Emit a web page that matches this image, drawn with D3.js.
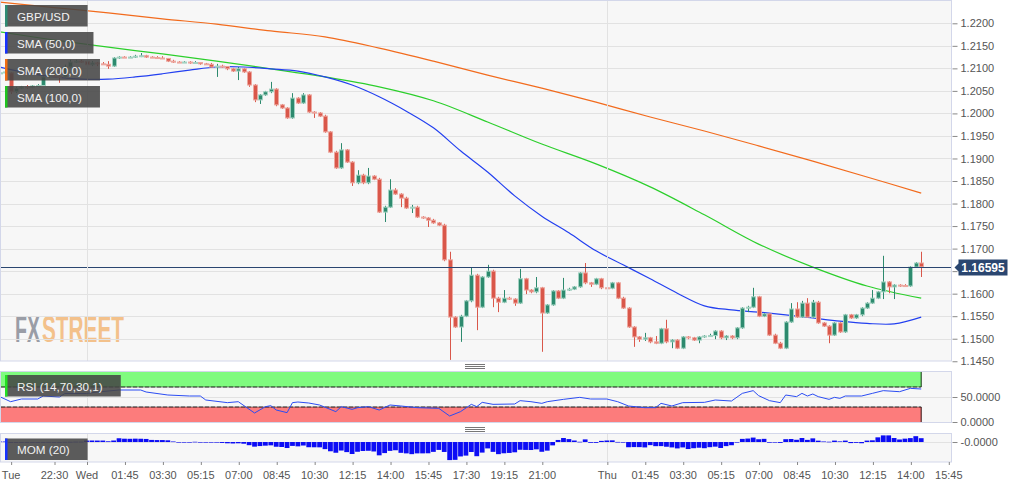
<!DOCTYPE html>
<html><head><meta charset="utf-8">
<script src="https://cdn.jsdelivr.net/npm/d3@7/dist/d3.min.js"></script>
<style>
html,body{margin:0;padding:0;background:#fff;}
svg{display:block;font-family:"Liberation Sans",Arial,sans-serif;}
</style></head>
<body><svg id="c" width="1022" height="488"></svg>
<script>
// ---------------- DATA ----------------
const firstBar = -16; // bar index of first candle (Wed 00:00 = 0, 15-minute bars)
const open = [
1.2088,1.2090,1.2090,1.2048,1.2056,1.2059,1.2058,1.2061,1.2062,1.2081,
1.2083,1.2082,1.2081,1.2103,1.2114,1.2116,1.2115,1.2108,1.2112,1.2110,
1.2109,1.2105,1.2123,1.2125,1.2124,1.2125,1.2127,1.2128,1.2125,1.2124,
1.2123,1.2122,1.2116,1.2114,1.2113,1.2114,1.2112,1.2113,1.2110,1.2109,
1.2103,1.2105,1.2104,1.2099,1.2094,1.2099,1.2092,1.2063,1.2030,1.2041,
1.2048,1.2054,1.2019,1.2012,1.1990,1.2034,1.2023,1.2041,1.2003,1.2001,
1.1994,1.1959,1.1914,1.1879,1.1919,1.1892,1.1846,1.1863,1.1846,1.1861,
1.1854,1.1781,1.1792,1.1830,1.1821,1.1812,1.1790,1.1792,1.1770,1.1768,
1.1763,1.1757,1.1752,1.1675,1.1548,1.1526,1.1550,1.1584,1.1641,1.1570,
1.1637,1.1650,1.1590,1.1581,1.1590,1.1588,1.1579,1.1633,1.1608,1.1604,
1.1613,1.1557,1.1575,1.1606,1.1590,1.1608,1.1610,1.1615,1.1646,1.1624,
1.1621,1.1633,1.1613,1.1612,1.1624,1.1590,1.1568,1.1526,1.1504,1.1499,
1.1502,1.1493,1.1490,1.1522,1.1493,1.1497,1.1479,1.1504,1.1502,1.1497,
1.1504,1.1506,1.1507,1.1517,1.1502,1.1506,1.1502,1.1524,1.1568,1.1570,
1.1593,1.1550,1.1555,1.1508,1.1490,1.1479,1.1537,1.1566,1.1548,1.1579,
1.1548,1.1581,1.1535,1.1528,1.1508,1.1535,1.1515,1.1553,1.1546,1.1553,
1.1568,1.1579,1.1590,1.1604,1.1626,1.1615,1.1619,1.1618,1.1617,1.1659,
1.1668];
const high = [
1.2094,1.2096,1.2092,1.2059,1.2061,1.2063,1.2063,1.2065,1.2083,1.2088,
1.2088,1.2090,1.2108,1.2119,1.2119,1.2119,1.2119,1.2116,1.2114,1.2114,
1.2116,1.2125,1.2127,1.2127,1.2127,1.2130,1.2134,1.2130,1.2127,1.2127,
1.2127,1.2123,1.2119,1.2116,1.2116,1.2116,1.2116,1.2114,1.2112,1.2112,
1.2110,1.2108,1.2105,1.2101,1.2103,1.2101,1.2094,1.2065,1.2043,1.2050,
1.2070,1.2056,1.2021,1.2014,1.2045,1.2036,1.2045,1.2043,1.2005,1.2003,
1.1997,1.1961,1.1917,1.1934,1.1921,1.1894,1.1874,1.1866,1.1879,1.1863,
1.1857,1.1795,1.1854,1.1834,1.1823,1.1815,1.1797,1.1795,1.1772,1.1770,
1.1766,1.1759,1.1755,1.1693,1.1550,1.1553,1.1586,1.1657,1.1644,1.1639,
1.1664,1.1653,1.1593,1.1608,1.1593,1.1590,1.1655,1.1635,1.1610,1.1637,
1.1615,1.1577,1.1608,1.1608,1.1635,1.1613,1.1617,1.1648,1.1668,1.1626,
1.1635,1.1635,1.1615,1.1626,1.1626,1.1593,1.1570,1.1528,1.1506,1.1513,
1.1504,1.1506,1.1524,1.1542,1.1499,1.1499,1.1506,1.1506,1.1504,1.1506,
1.1508,1.1511,1.1519,1.1519,1.1508,1.1508,1.1526,1.1570,1.1573,1.1613,
1.1595,1.1557,1.1557,1.1511,1.1493,1.1539,1.1579,1.1581,1.1584,1.1590,
1.1586,1.1584,1.1537,1.1530,1.1537,1.1537,1.1555,1.1555,1.1555,1.1570,
1.1581,1.1608,1.1606,1.1684,1.1628,1.1621,1.1621,1.1621,1.1661,1.1670,
1.1693];
const low = [
1.2085,1.2088,1.2043,1.2045,1.2054,1.2054,1.2056,1.2059,1.2061,1.2079,
1.2081,1.2068,1.2079,1.2101,1.2112,1.2112,1.2096,1.2105,1.2105,1.2108,
1.2099,1.2103,1.2121,1.2123,1.2123,1.2123,1.2125,1.2123,1.2123,1.2121,
1.2121,1.2114,1.2112,1.2112,1.2112,1.2110,1.2110,1.2108,1.2108,1.2101,
1.2081,1.2101,1.2096,1.2092,1.2074,1.2090,1.2059,1.2025,1.2021,1.2039,
1.2045,1.2016,1.2010,1.1988,1.1988,1.2021,1.2021,1.2001,1.1990,1.1992,
1.1957,1.1912,1.1877,1.1877,1.1890,1.1839,1.1843,1.1843,1.1843,1.1852,
1.1779,1.1759,1.1790,1.1819,1.1792,1.1788,1.1779,1.1768,1.1766,1.1748,
1.1755,1.1750,1.1672,1.1453,1.1524,1.1493,1.1548,1.1581,1.1519,1.1568,
1.1635,1.1570,1.1559,1.1579,1.1586,1.1573,1.1577,1.1599,1.1601,1.1601,
1.1471,1.1555,1.1573,1.1588,1.1588,1.1606,1.1608,1.1613,1.1621,1.1615,
1.1619,1.1610,1.1608,1.1610,1.1588,1.1566,1.1524,1.1482,1.1493,1.1495,
1.1490,1.1488,1.1488,1.1490,1.1479,1.1477,1.1477,1.1499,1.1495,1.1490,
1.1502,1.1504,1.1499,1.1499,1.1497,1.1499,1.1499,1.1522,1.1559,1.1568,
1.1548,1.1548,1.1506,1.1488,1.1477,1.1477,1.1535,1.1546,1.1546,1.1546,
1.1546,1.1533,1.1526,1.1490,1.1506,1.1513,1.1513,1.1544,1.1544,1.1550,
1.1566,1.1577,1.1588,1.1588,1.1601,1.1588,1.1615,1.1615,1.1615,1.1657,
1.1637];
const close = [
1.2090,1.2092,1.2048,1.2056,1.2059,1.2058,1.2061,1.2062,1.2081,1.2083,
1.2082,1.2081,1.2103,1.2114,1.2116,1.2115,1.2108,1.2112,1.2110,1.2109,
1.2105,1.2123,1.2125,1.2124,1.2125,1.2127,1.2128,1.2125,1.2124,1.2123,
1.2122,1.2116,1.2114,1.2113,1.2114,1.2112,1.2113,1.2110,1.2109,1.2103,
1.2105,1.2104,1.2099,1.2094,1.2099,1.2092,1.2063,1.2030,1.2041,1.2048,
1.2054,1.2019,1.2012,1.1990,1.2034,1.2023,1.2041,1.2003,1.2001,1.1994,
1.1959,1.1914,1.1879,1.1919,1.1892,1.1846,1.1863,1.1846,1.1861,1.1854,
1.1781,1.1792,1.1830,1.1821,1.1812,1.1790,1.1792,1.1770,1.1768,1.1763,
1.1757,1.1752,1.1675,1.1548,1.1526,1.1550,1.1584,1.1641,1.1570,1.1637,
1.1650,1.1590,1.1581,1.1590,1.1588,1.1579,1.1633,1.1608,1.1604,1.1613,
1.1557,1.1575,1.1606,1.1590,1.1608,1.1610,1.1615,1.1646,1.1624,1.1621,
1.1633,1.1613,1.1612,1.1624,1.1590,1.1568,1.1526,1.1504,1.1499,1.1502,
1.1493,1.1490,1.1522,1.1493,1.1497,1.1479,1.1504,1.1502,1.1497,1.1504,
1.1506,1.1507,1.1517,1.1502,1.1506,1.1502,1.1524,1.1568,1.1570,1.1593,
1.1550,1.1555,1.1508,1.1490,1.1479,1.1537,1.1566,1.1548,1.1579,1.1548,
1.1581,1.1535,1.1528,1.1508,1.1535,1.1515,1.1553,1.1546,1.1553,1.1568,
1.1579,1.1590,1.1604,1.1626,1.1615,1.1619,1.1618,1.1617,1.1659,1.1668,
1.16595];

// Moving averages, read at sampled bars
const sma50Bars  = [-16,-11,-6,-1,4,9,14,19,24,29,34,39,44,49,54,59,64,69,74,79,84,89,94,99,104,109,114,119,124,129,134,139,144,149,154];
const sma50Vals  = [1.2103,1.2090,1.2081,1.2076,1.2076,1.2081,1.2088,1.2096,1.2103,1.2103,1.2099,1.2094,1.2081,1.2063,1.2037,1.2005,1.1968,1.1917,1.1870,1.1817,1.1772,1.1735,1.1695,1.1664,1.1633,1.1601,1.1573,1.1564,1.1559,1.1553,1.1546,1.1539,1.1534,1.1533,1.1548];
const sma100Bars = [-16,-6,4,14,24,34,44,54,64,74,84,94,104,114,124,134,144,154];
const sma100Vals = [1.2181,1.2163,1.2147,1.2132,1.2116,1.2099,1.2081,1.2059,1.2028,1.1981,1.1932,1.1888,1.1837,1.1775,1.1710,1.1659,1.1617,1.1590];
const sma200Bars = [-16,-6,4,14,24,34,44,54,64,74,84,94,104,114,124,134,144,154];
const sma200Vals = [1.2247,1.2235,1.2223,1.2210,1.2198,1.2183,1.2170,1.2145,1.2116,1.2085,1.2056,1.2025,1.1992,1.1961,1.1928,1.1894,1.1859,1.1823];

// RSI (14), read at sampled bars
const rsiBars = [-16,-14,-12,-9,-8,-5,-4,0,2,6,10,11,15,19,21,22,26,28,31,33,34,35,37,38,39,41,43,46,47,49,50,52,54,56,58,61,65,67,69,71,72,73,75,79,80,82,84,85,88,91,93,96,98,100,103,105,106,108,110,114,116,119,121,123,124,126,128,129,131,132,133,134,135,137,138,139,140,143,145,147,150,152,154];
const rsiVals = [50.6,40.6,46,46,52,50,57,57,60,64,64,60,54,52,52,44,38.7,40.6,18,30.6,32.7,24,18.7,38.7,40,38,34,20.7,30.7,25.3,28.7,30.7,24,34,32,28.7,27.3,12,20.7,35.3,30.7,39.3,35.3,36,42.7,40.6,37.3,40.6,45.3,49.3,46,46,40.6,32,28.7,28.7,37.3,32,38.7,39.3,44,42,57.3,62.7,52.7,42.7,38.7,54,50.7,57.3,52,56,50.7,45.3,49.3,47.3,52,52,57.3,62.7,60.6,67.3,66];

// MOM (20): first 20 bars (need earlier history); rest = close - close 20 bars ago
const momHead = [0.0010,0.0010,-0.0010,-0.0003,-0.0001,0.0001,-0.0001,0.0000,0.0001,0.0002,-0.0001,0.0001,0.0003,0.0004,0.0006,0.0006,0.0030,0.0031,0.0030,0.0030];
const momPeriod = 20;

// Axis labels
const priceTicks = [1.145,1.150,1.155,1.160,1.165,1.170,1.175,1.180,1.185,1.190,1.195,1.200,1.205,1.210,1.215,1.220];
const rsiTicks = [50,0];
const rsiTickLabels = ["50.0000","0.0000"];
const momTicks = [0];
const momTickLabels = ["-0.0000"];
const timeTickBars   = [-14,-6,0,7,14,21,28,35,42,49,56,63,70,77,84,96,103,110,117,124,131,138,145,152,159];
const timeTickLabels = ["Tue","22:30","Wed","01:45","03:30","05:15","07:00","08:45","10:30","12:15","14:00","15:45","17:30","19:15","21:00","Thu","01:45","03:30","05:15","07:00","08:45","10:30","12:15","14:00","15:45"];
const dayStartBars = [0,96];
const lastPriceLabel = "1.16595";
const watermarkParts = ["FX","STREET"];

const legendMain = [
  {label:"GBP/USD",     color:"#2e8b73"},
  {label:"SMA (50,0)",  color:"#1733ff"},
  {label:"SMA (200,0)", color:"#f06d12"},
  {label:"SMA (100,0)", color:"#1fc41f"}
];

// ---------------- LAYOUT ----------------
const plotL = 0.5, plotR = 951.5;
const main = {top:0.5, bottom:361};
const rsiP = {top:371.5, bottom:422.5};
const momP = {top:433.5, bottom:462};
const C = {
  bg:"#f7f7f7", border:"#d3d7ea", grid:"#e2e2e2", axisText:"#555", tick:"#888",
  up:"#2d8a6e", upEdge:"#a3d2c2", dn:"#d9574a", dnEdge:"#eda79f",
  sma50:"#2340f0", sma100:"#2ccf2c", sma200:"#f26b1d",
  priceLine:"#2a4670", rsi:"#2b4cf2", mom:"#0c0cf5",
  obFill:"#7ffb7f", osFill:"#fc7c7c"
};

const svg = d3.select("#c");
const nBars = close.length;
const bars = close.map((c,i)=>({i:i+firstBar, o:open[i], h:high[i], l:low[i], c:c}));

const x = d3.scaleLinear().domain([firstBar, firstBar+nBars-1]).range([-0.2, 921.2]);
const y = d3.scaleLinear().domain([1.145,1.220]).range([361.25, 23.3]);
const yR = d3.scaleLinear().domain([0,100]).range([422,372]);
const yM = d3.scaleLinear().domain([-0.041,0.0185]).range([462,433]);

const defs = svg.append("defs");
function clip(id,p){
  defs.append("clipPath").attr("id",id).append("rect")
    .attr("x",plotL).attr("y",p.top).attr("width",plotR-plotL).attr("height",p.bottom-p.top);
}
clip("cm",main); clip("cr",rsiP); clip("cmo",momP);

function panel(p){
  svg.append("rect").attr("x",plotL).attr("y",p.top).attr("width",plotR-plotL).attr("height",p.bottom-p.top)
    .attr("fill",C.bg).attr("stroke","none");
}
function panelBorder(p){
  svg.append("rect").attr("x",plotL).attr("y",p.top).attr("width",plotR-plotL).attr("height",p.bottom-p.top)
    .attr("fill","none").attr("stroke",C.border).attr("stroke-width",1);
}
panel(main); panel(rsiP); panel(momP);

// watermark (two separate words, horizontally squeezed with a transform)
const wmFont = "'Liberation Sans Narrow','Liberation Sans',Arial,sans-serif";
[[15,25,"#9a9da6"],[42,82,"#f3c18b"]].forEach((s,k)=>{
  const g = svg.append("g");
  const t = g.append("text").attr("x",0).attr("y",0)
    .attr("font-family",wmFont).attr("font-weight","bold").attr("font-size",37)
    .attr("fill",s[2]).text(watermarkParts[k]);
  const w = t.node().getComputedTextLength();
  g.attr("transform",`translate(${s[0]},341.5) scale(${s[1]/w},1)`);
});

// gridlines
const gMain = svg.append("g").attr("clip-path","url(#cm)");
gMain.selectAll("line.h").data(priceTicks).join("line")
  .attr("x1",plotL).attr("x2",plotR).attr("y1",d=>Math.round(y(d))+0.5).attr("y2",d=>Math.round(y(d))+0.5)
  .attr("stroke",C.grid);
[main,rsiP,momP].forEach(p=>{
  svg.append("g").selectAll("line").data(dayStartBars).join("line")
    .attr("x1",d=>Math.round(x(d))+0.5).attr("x2",d=>Math.round(x(d))+0.5)
    .attr("y1",p.top).attr("y2",p.bottom).attr("stroke",C.grid);
});

// SMA lines
const line = d3.line().curve(d3.curveCatmullRom.alpha(0.5));
function sma(bs,vs,col){
  gMain.append("path").attr("d",line(bs.map((b,k)=>[x(b),y(vs[k])])))
    .attr("fill","none").attr("stroke",col).attr("stroke-width",1.2);
}
sma(sma200Bars,sma200Vals,C.sma200);
sma(sma100Bars,sma100Vals,C.sma100);
sma(sma50Bars,sma50Vals,C.sma50);

// candles
const cg = gMain.append("g");
const cand = cg.selectAll("g").data(bars).join("g");
cand.append("line")
  .attr("x1",d=>Math.round(x(d.i))+0.5).attr("x2",d=>Math.round(x(d.i))+0.5)
  .attr("y1",d=>y(d.h)).attr("y2",d=>y(d.l))
  .attr("stroke",d=>d.c>=d.o?C.up:C.dn).attr("stroke-width",1);
cand.append("rect")
  .attr("x",d=>Math.round(x(d.i))-1.5).attr("width",4)
  .attr("y",d=>Math.min(y(d.o),y(d.c)))
  .attr("height",d=>Math.max(1,Math.abs(y(d.o)-y(d.c))))
  .attr("fill",d=>d.c>=d.o?C.up:C.dn)
  .attr("stroke",d=>d.c>=d.o?C.upEdge:C.dnEdge).attr("stroke-width",1);

// last price line
const lastY = Math.round(y(close[nBars-1]))+0.5;
gMain.append("line").attr("x1",plotL).attr("x2",plotR).attr("y1",lastY).attr("y2",lastY)
  .attr("stroke",C.priceLine).attr("stroke-width",1);

// RSI panel
const gR = svg.append("g").attr("clip-path","url(#cr)");
gR.append("line").attr("x1",plotL).attr("x2",plotR).attr("y1",Math.round(yR(50))+0.5).attr("y2",Math.round(yR(50))+0.5).attr("stroke",C.grid);
const bandR = x(firstBar+nBars-1);
gR.append("rect").attr("x",plotL).attr("y",yR(100)).attr("width",bandR-plotL).attr("height",yR(70)-yR(100))
  .attr("fill",C.obFill);
gR.append("rect").attr("x",plotL).attr("y",yR(30)).attr("width",bandR-plotL).attr("height",yR(0)-yR(30))
  .attr("fill",C.osFill);
gR.append("line").attr("x1",plotL).attr("x2",bandR).attr("y1",yR(70)).attr("y2",yR(70))
  .attr("stroke","#111").attr("stroke-dasharray","5,1");
gR.append("line").attr("x1",plotL).attr("x2",bandR).attr("y1",yR(30)).attr("y2",yR(30))
  .attr("stroke","#111").attr("stroke-dasharray","5,1");
gR.append("line").attr("x1",bandR).attr("x2",bandR).attr("y1",yR(100)).attr("y2",yR(70)).attr("stroke","#113311");
gR.append("line").attr("x1",bandR).attr("x2",bandR).attr("y1",yR(30)).attr("y2",yR(0)).attr("stroke","#331111");
gR.append("path").attr("d",d3.line()(rsiBars.map((b,k)=>[x(b),yR(rsiVals[k])])))
  .attr("fill","none").attr("stroke",C.rsi).attr("stroke-width",1);

// MOM panel
const mom = close.map((c,i)=> i<momPeriod ? momHead[i] : c - close[i-momPeriod]);
const gMo = svg.append("g").attr("clip-path","url(#cmo)");
gMo.append("line").attr("x1",plotL).attr("x2",plotR).attr("y1",Math.round(yM(0))+0.5).attr("y2",Math.round(yM(0))+0.5).attr("stroke",C.grid);
gMo.selectAll("rect").data(mom).join("rect")
  .attr("x",(d,i)=>x(i+firstBar)-2.4).attr("width",4.8)
  .attr("y",d=>Math.min(yM(0),yM(d)))
  .attr("height",d=>Math.max(0.6,Math.abs(yM(d)-yM(0))))
  .attr("fill",C.mom);

panelBorder(main); panelBorder(rsiP); panelBorder(momP);

// grips
[365,428].forEach(gy=>{
  [0,2,4].forEach(o=>svg.append("line").attr("x1",465).attr("x2",485)
    .attr("y1",gy+o-0.5).attr("y2",gy+o-0.5).attr("stroke","#777").attr("stroke-width",1));
});

// Axes
function styleAxis(g){
  g.select(".domain").remove();
  g.selectAll(".tick line").attr("stroke",C.tick);
  g.selectAll(".tick text").attr("fill",C.axisText).attr("font-size",11)
   .attr("font-family","'Liberation Sans',Arial,sans-serif");
}
const lastClose = close[nBars-1];
const yAx = svg.append("g").attr("transform",`translate(${plotR+1},0)`)
  .call(d3.axisRight(y).tickValues(priceTicks).tickFormat(d=>d.toFixed(4)).tickSize(5).tickPadding(3))
  .call(styleAxis);
// the last-price tag covers the tick label right under it
yAx.selectAll(".tick").filter(d=>Math.abs(y(d)-y(lastClose))<10).select("text").remove();
svg.append("g").attr("transform",`translate(${plotR+1},0)`)
  .call(d3.axisRight(yR).tickValues(rsiTicks).tickFormat((d,i)=>rsiTickLabels[i]).tickSize(5).tickPadding(3))
  .call(styleAxis);
svg.append("g").attr("transform",`translate(${plotR+1},0)`)
  .call(d3.axisRight(yM).tickValues(momTicks).tickFormat((d,i)=>momTickLabels[i]).tickSize(5).tickPadding(3))
  .call(styleAxis);
const xa = svg.append("g").attr("transform",`translate(0,${momP.bottom})`)
  .call(d3.axisBottom(x).tickValues(timeTickBars).tickFormat((d,i)=>timeTickLabels[i]).tickSize(3).tickPadding(6))
  .call(styleAxis);
xa.selectAll(".tick line").attr("transform","translate(0.5,0)");
xa.selectAll(".tick text").each(function(){
  const bb = this.getBBox();
  const tx = +this.parentNode.getAttribute("transform").match(/translate\(([-\d.]+)/)[1];
  if (tx + bb.x < 1) d3.select(this).attr("x", 1 - tx - bb.x);
});

// last price tag
const tag = svg.append("g").attr("transform",`translate(${plotR+3},${lastY})`);
tag.append("path").attr("d","M0,0 L4,-4 L4,-8 L53,-8 L53,8 L4,8 L4,4 Z").attr("fill",C.priceLine);
tag.append("text").attr("x",28.5).attr("y",4.5).attr("text-anchor","middle")
  .attr("fill","#fff").attr("font-weight","bold").attr("font-size",12).text(lastPriceLabel);

// legends
function legend(x0,y0,label,color){
  const g = svg.append("g");
  const t = g.append("text").attr("x",x0+12).attr("y",y0+15.5).attr("fill","#f2f2f2")
    .attr("font-size",11.7).text(label);
  const w = t.node().getComputedTextLength()+30;
  g.insert("rect","text").attr("x",x0).attr("y",y0).attr("width",w).attr("height",21.5)
    .attr("fill","rgba(70,70,70,0.88)");
  g.insert("rect","text").attr("x",x0).attr("y",y0).attr("width",2.5).attr("height",21.5).attr("fill",color);
}
legendMain.forEach((d,k)=>legend(5,5+k*27,d.label,d.color));
legend(5,375,"RSI (14,70,30,1)","#22e022");
legend(5,438.5,"MOM (20)","#1733ff");
</script>
</body></html>
